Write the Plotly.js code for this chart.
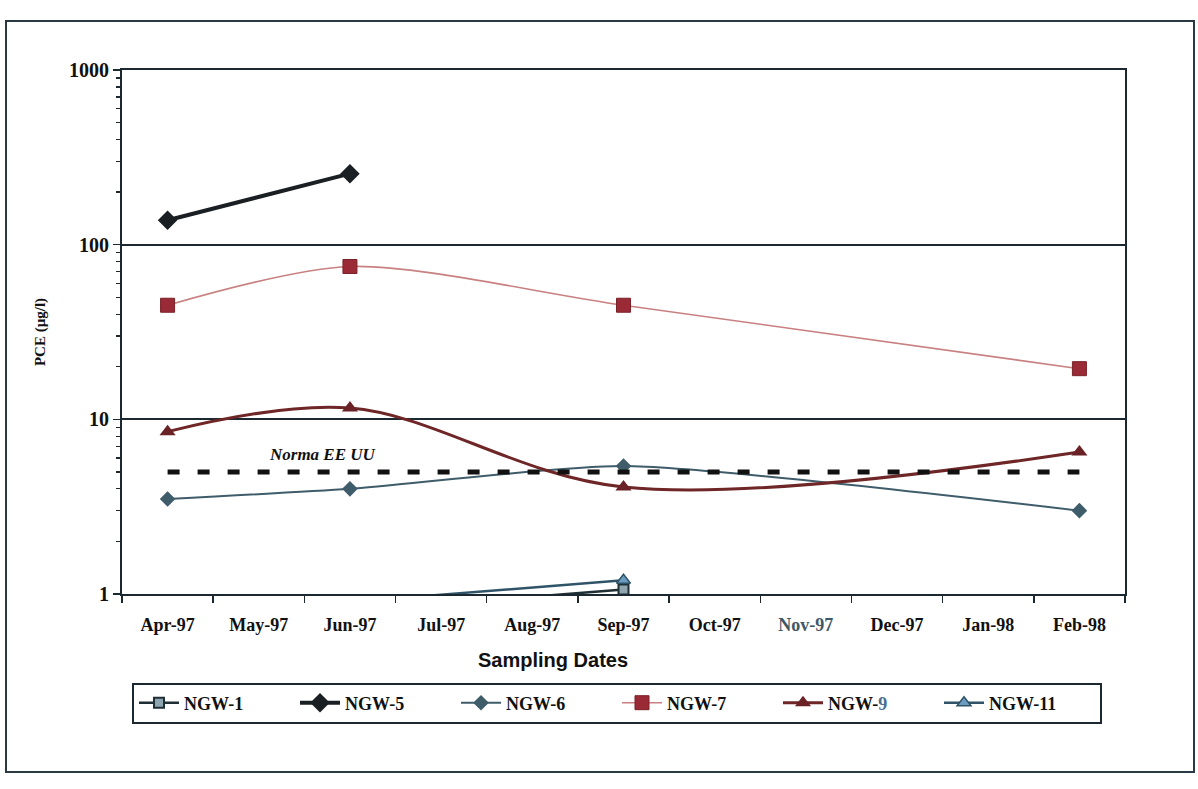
<!DOCTYPE html>
<html>
<head>
<meta charset="utf-8">
<script src="https://cdn.plot.ly/plotly-3.0.1.min.js"></script>
<style>
  html, body { margin: 0; padding: 0; background: #ffffff; }
  #chart { width: 1198px; height: 789px; }
</style>
</head>
<body>
<div id="chart"></div>
<script>
// ---- data ----
const months = ['Apr-97','May-97','Jun-97','Jul-97','Aug-97','Sep-97','Oct-97','Nov-97','Dec-97','Jan-98','Feb-98'];
const monthLabels = ['Apr-97','May-97','Jun-97','Jul-97','Aug-97','Sep-97','Oct-97','<span style="color:#3e5868">Nov-97</span>','Dec-97','Jan-98','Feb-98'];

const ngw1Dates  = ['Jun-97','Sep-97'];
const ngw1Values = [0.8, 1.06];

const ngw5Dates  = ['Apr-97','Jun-97'];
const ngw5Values = [138, 255];

const ngw6Dates  = ['Apr-97','Jun-97','Sep-97','Feb-98'];
const ngw6Values = [3.5, 4.0, 5.4, 3.0];

const ngw7Dates  = ['Apr-97','Jun-97','Sep-97','Feb-98'];
const ngw7Values = [45, 75, 45, 19.5];

const ngw9Dates  = ['Apr-97','Jun-97','Sep-97','Feb-98'];
const ngw9Values = [8.5, 11.6, 4.1, 6.5];

const ngw11Dates  = ['Jun-97','Sep-97'];
const ngw11Values = [0.9, 1.2];

const normaDates = ['Apr-97','Feb-98'];
const normaValue = 5;
const normaLabel = 'Norma EE UU';

const yTickVals = [1, 10, 100, 1000];
const yTickText = ['1', '10', '100', '1000'];

// ---- styling ----
const ink = '#1c2830';
const serif = 'Liberation Serif, Times New Roman, serif';
const sans = 'Liberation Sans, Arial, sans-serif';

const minorVals = [];
[1, 10, 100].forEach(d => { for (let k = 2; k <= 9; k++) minorVals.push(d * k); });

const traces = [
  {
    name: 'NGW-1', x: ngw1Dates, y: ngw1Values, type: 'scatter', mode: 'lines+markers',
    line: { color: '#1f2f36', width: 2.5 },
    marker: { symbol: 'square', size: 10, color: '#8fa6b0', line: { color: '#1f2f36', width: 2 } }
  },
  {
    name: 'NGW-5', x: ngw5Dates, y: ngw5Values, type: 'scatter', mode: 'lines+markers',
    line: { color: '#1a1f24', width: 4 },
    marker: { symbol: 'diamond', size: 15, color: '#1a1f24' }
  },
  {
    name: 'NGW-6', x: ngw6Dates, y: ngw6Values, type: 'scatter', mode: 'lines+markers',
    line: { color: '#3e5c6a', width: 2, shape: 'spline', smoothing: 0.6 },
    marker: { symbol: 'diamond', size: 12, color: '#3e5c6a' }
  },
  {
    name: 'NGW-7', x: ngw7Dates, y: ngw7Values, type: 'scatter', mode: 'lines+markers',
    line: { color: '#c98080', width: 1.6, shape: 'spline', smoothing: 0.8 },
    marker: { symbol: 'square', size: 14, color: '#9a2a35', line: { color: '#7a2028', width: 1 } }
  },
  {
    name: 'NGW-<span style="color:#4a6f8f">9</span>', x: ngw9Dates, y: ngw9Values, type: 'scatter', mode: 'lines+markers',
    line: { color: '#6e2626', width: 3, shape: 'spline', smoothing: 1 },
    marker: { symbol: 'triangle-up', size: 14, color: '#6a2226' }
  },
  {
    name: 'NGW-11', x: ngw11Dates, y: ngw11Values, type: 'scatter', mode: 'lines+markers',
    line: { color: '#2f5468', width: 2.5 },
    marker: { symbol: 'triangle-up', size: 12, color: '#6d9cc2', line: { color: '#2f5468', width: 1.5 } }
  },
  {
    name: normaLabel, x: normaDates, y: normaDates.map(() => normaValue), type: 'scatter', mode: 'lines',
    line: { color: '#111111', width: 5, dash: '12px,18px' },
    showlegend: false, hoverinfo: 'skip'
  }
];

const W = 1198, H = 789;
const mL = 122, mR = 73, mT = 70, mB = 195;
const pw = W - mL - mR, ph = H - mT - mB;
const px = v => (v - mL) / pw;
const py = v => (H - mB - v) / ph;

const layout = {
  width: W, height: H,
  margin: { l: mL, r: mR, t: mT, b: mB, pad: 0 },
  paper_bgcolor: '#ffffff', plot_bgcolor: '#ffffff',
  showlegend: true,
  xaxis: {
    type: 'category', categoryorder: 'array', categoryarray: months,
    tickvals: months, ticktext: monthLabels,
    range: [-0.5, 10.5], tickson: 'boundaries',
    ticks: 'outside', ticklen: 7, tickwidth: 1.5, tickcolor: ink,
    showline: true, linecolor: ink, linewidth: 2, mirror: true,
    showgrid: false, zeroline: false,
    ticklabelstandoff: 13,
    tickfont: { family: serif, size: 18, color: '#111', weight: 'bold' }
  },
  yaxis: {
    type: 'log', range: [0, 3],
    tickvals: yTickVals, ticktext: yTickText,
    ticks: 'outside', ticklen: 7, tickwidth: 1.5, tickcolor: ink,
    minor: { tickvals: minorVals, ticks: 'outside', ticklen: 4, tickwidth: 1.2, tickcolor: ink, showgrid: false },
    showline: true, linecolor: ink, linewidth: 2, mirror: true,
    showgrid: true, gridcolor: ink, gridwidth: 2,
    zeroline: false,
    tickfont: { family: serif, size: 20, color: '#111', weight: 'bold' },
    title: { text: 'PCE (µg/l)', font: { family: serif, size: 15, color: '#111', weight: 'bold' }, standoff: 20 }
  },
  legend: {
    orientation: 'h', x: px(617), xanchor: 'center', y: py(703), yanchor: 'middle',
    bgcolor: '#ffffff', bordercolor: ink, borderwidth: 2,
    font: { family: serif, size: 18, color: '#111', weight: 'bold' },
    itemwidth: 40, entrywidth: 106, tracegroupgap: 0
  },
  annotations: [
    {
      xref: 'x', yref: 'y', x: 1.7, y: Math.log10(6.3), text: normaLabel,
      showarrow: false, font: { family: serif, size: 17, color: '#111', weight: 'bold', style: 'italic' }
    },
    {
      xref: 'paper', yref: 'paper', x: px(553), y: py(660), text: 'Sampling Dates',
      showarrow: false, xanchor: 'center', yanchor: 'middle',
      font: { family: sans, size: 20, color: '#111', weight: 'bold' }
    }
  ],
  shapes: [
    {
      type: 'rect', xref: 'paper', yref: 'paper',
      x0: px(6), x1: px(1194), y0: py(772), y1: py(21),
      line: { color: '#2a3a44', width: 2 }, fillcolor: 'rgba(0,0,0,0)', layer: 'below'
    }
  ]
};

Plotly.newPlot('chart', traces, layout, { displayModeBar: false, staticPlot: true });
</script>
</body>
</html>
